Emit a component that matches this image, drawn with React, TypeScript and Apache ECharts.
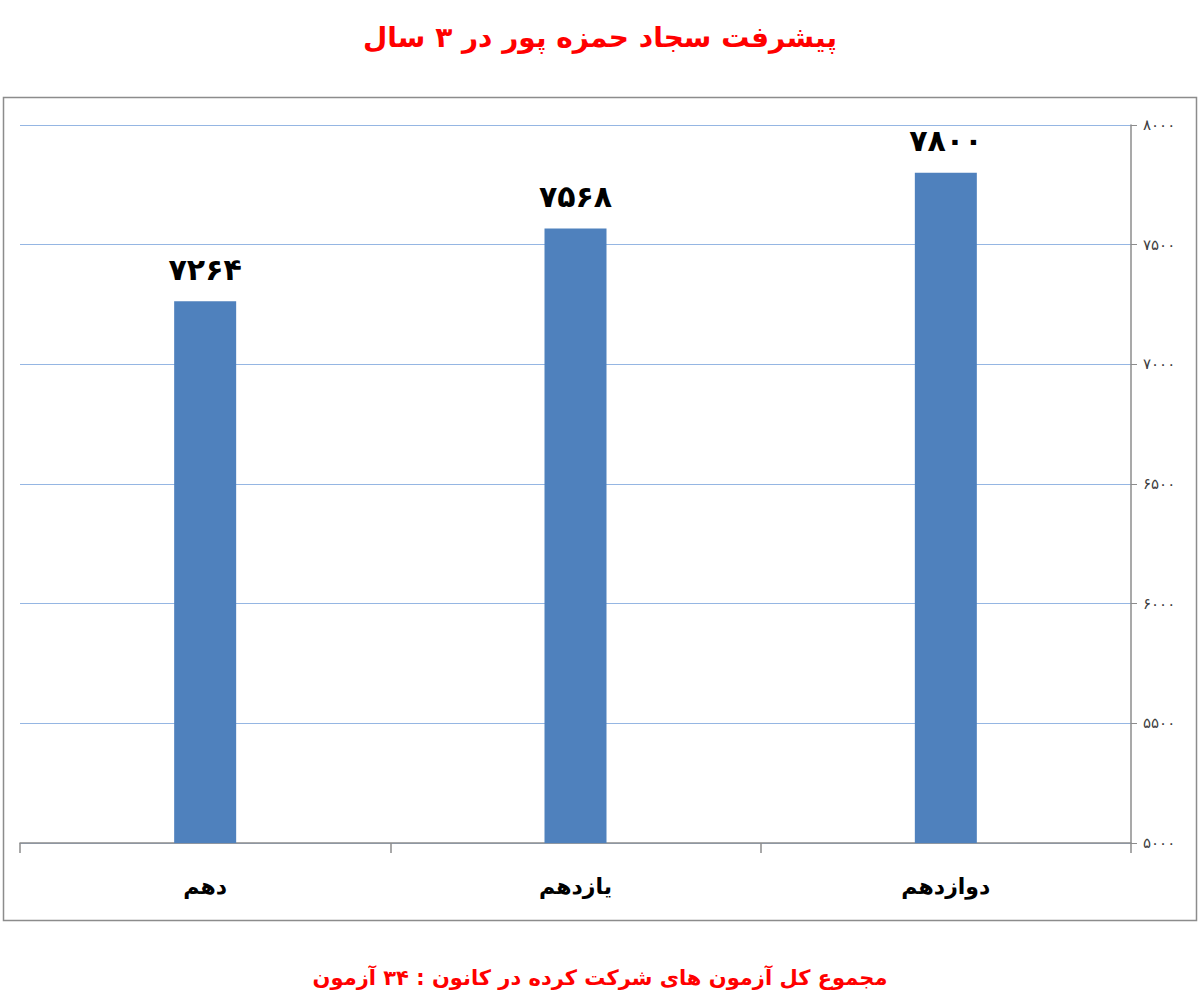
import * as React from 'react';
import * as echarts from 'echarts';

const categories = ['دهم', 'یازدهم', 'دوازدهم'];
const scores = [7264, 7568, 7800];
const yTicks = [5000, 5500, 6000, 6500, 7000, 7500, 8000];

const titleText = 'پیشرفت سجاد حمزه پور در ۳ سال';
const footerText = 'مجموع کل آزمون های شرکت کرده در کانون : ۳۴ آزمون';

const FONT = '"DejaVu Sans", sans-serif';

// Latin digits -> Persian digits
const toFa = (v: number | string) =>
  String(v).replace(/[0-9]/g, (d) => '۰۱۲۳۴۵۶۷۸۹'[Number(d)]);

export default function App() {
  const chartRef = React.useRef<HTMLDivElement>(null);

  React.useEffect(() => {
    if (!chartRef.current) return;
    const chart = echarts.init(chartRef.current, undefined, { renderer: 'svg' });

    chart.setOption({
      animation: false,
      backgroundColor: '#ffffff',
      textStyle: { fontFamily: FONT },
      title: [
        {
          text: titleText,
          left: 'center',
          top: 18,
          textStyle: { color: '#ff0000', fontSize: 28, fontWeight: 'bold', fontFamily: FONT },
        },
        {
          text: footerText,
          left: 'center',
          top: 962,
          textStyle: { color: '#ff0000', fontSize: 21, fontWeight: 'bold', fontFamily: FONT },
        },
      ],
      graphic: [
        {
          type: 'rect',
          shape: { x: 3.5, y: 97.5, width: 1193, height: 823 },
          style: { fill: 'none', stroke: '#8c8c8c', lineWidth: 1.5 },
          silent: true,
        },
      ],
      grid: { left: 20, right: 69, top: 125, bottom: 162 },
      xAxis: {
        type: 'category',
        data: categories,
        axisLine: { show: true, lineStyle: { color: '#8c8c8c', width: 1.5 } },
        axisTick: { show: true, length: 10, lineStyle: { color: '#8c8c8c', width: 1.5 } },
        axisLabel: {
          color: '#000000',
          fontSize: 22,
          fontWeight: 'bold',
          margin: 32,
          fontFamily: FONT,
        },
      },
      yAxis: {
        type: 'value',
        position: 'right',
        min: yTicks[0],
        max: yTicks[yTicks.length - 1],
        interval: 500,
        axisLine: { show: true, lineStyle: { color: '#8c8c8c', width: 1.5 } },
        axisTick: { show: true, length: 6, lineStyle: { color: '#8c8c8c' } },
        splitLine: { show: true, lineStyle: { color: '#95b6e3', width: 1.2 } },
        axisLabel: {
          color: '#404040',
          fontSize: 15,
          margin: 12,
          fontFamily: FONT,
          formatter: (v: number) => toFa(v),
        },
      },
      series: [
        {
          type: 'bar',
          data: scores,
          barWidth: 62,
          itemStyle: { color: '#4f81bd' },
          label: {
            show: true,
            position: 'top',
            distance: 17,
            color: '#000000',
            fontSize: 30,
            fontWeight: 'bold',
            fontFamily: FONT,
            formatter: (p: any) => toFa(p.value),
          },
        },
      ],
    });

    return () => {
      chart.dispose();
    };
  }, []);

  return (
    <div
      ref={chartRef}
      style={{ position: 'absolute', left: 0, top: 0, width: 1200, height: 1005 }}
    />
  );
}
